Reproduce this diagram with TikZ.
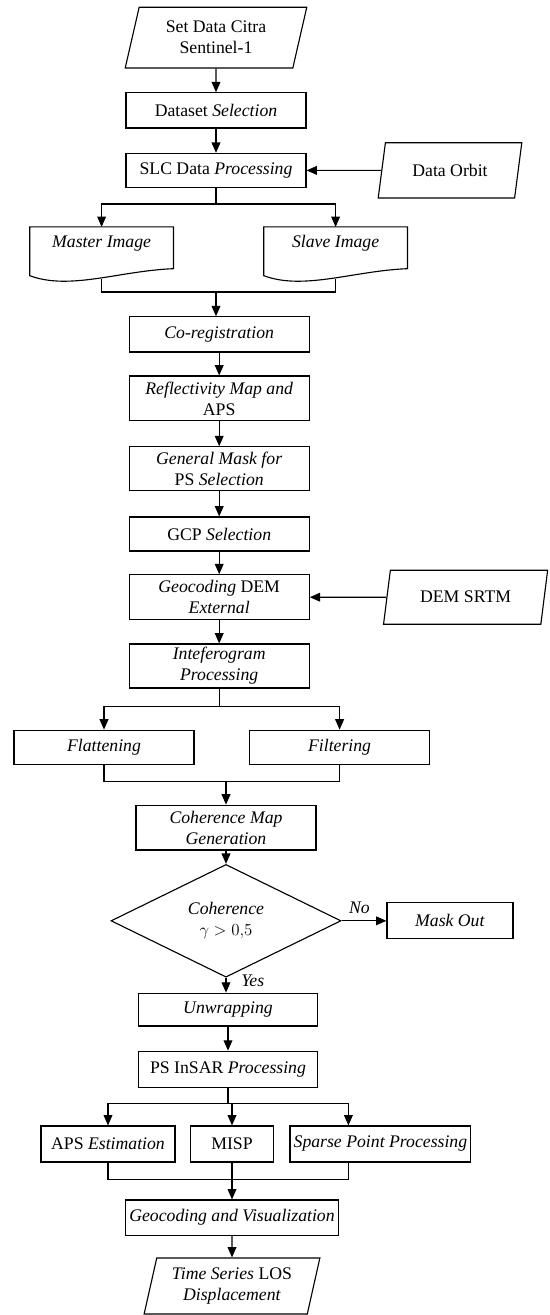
\documentclass[tikz,border=0pt]{standalone}
\usepackage{fontspec}
\setmainfont{Liberation Serif}
\usetikzlibrary{arrows.meta, shapes.geometric, calc}

\begin{document}
\begin{tikzpicture}[
  font=\fontsize{12.6}{15}\selectfont,
  procbox/.style={rectangle, draw, line width=0.8pt, align=center,
    inner sep=2pt, minimum width=4.5cm, minimum height=0.88cm},
  iobox/.style={trapezium, trapezium left angle=76, trapezium right angle=104,
    trapezium stretches=true, draw, line width=0.8pt, align=center, inner sep=2pt},
  docbox/.style={rectangle, align=center, inner sep=2pt,
    minimum width=3.58cm, minimum height=1.28cm,
    text height=0.3cm, text depth=0.55cm},
  decbox/.style={diamond, draw, line width=0.8pt, align=center,
    minimum width=5.75cm, minimum height=2.33cm, inner sep=0pt},
  arr/.style={-{Triangle[length=2.6mm, width=2.2mm]}, line width=0.8pt},
  conn/.style={line width=0.8pt}
]
\useasboundingbox (0,0) rectangle (13.75,-32.875);

%% --- Input and SLC processing ---
\node[iobox, minimum width=4.55cm, minimum height=1.52cm]
  (start) at (5.40,-0.94) {Set Data Citra\\Sentinel-1};
\node[procbox] (dsel) at (5.40,-2.76) {Dataset \textit{Selection}};
\node[procbox, minimum height=0.85cm] (slc) at (5.40,-4.26) {SLC Data \textit{Processing}};
\node[iobox, minimum width=3.6cm, minimum height=1.38cm]
  (orbit) at (11.25,-4.26) {Data Orbit};

%% --- Master / slave ---
\node[docbox] (master) at (2.54,-6.32) {\textit{Master Image}};
\node[docbox] (slave)  at (8.39,-6.32) {\textit{Slave Image}};
\foreach \d in {master, slave}
  \draw[conn] (\d.north west) -- (\d.north east) -- ($(\d.south east)+(0,0.25)$)
    .. controls ($(\d.south east)+(-1.33,0.2)$) and ($(\d.south west)+(1.0,-0.3)$)
    .. ($(\d.south west)+(0,0.075)$) -- cycle;

%% --- Interferometric chain ---
\node[procbox] (coreg)  at (5.48,-8.36)  {\textit{Co-registration}};
\node[procbox, minimum height=1.12cm] (refl)  at (5.48,-9.96)
  {\textit{Reflectivity Map and}\\APS};
\node[procbox, minimum height=1.1cm]  (gmask) at (5.48,-11.72)
  {\textit{General Mask for}\\PS \textit{Selection}};
\node[procbox, minimum height=0.85cm] (gcp)   at (5.48,-13.35) {GCP \textit{Selection}};
\node[procbox, minimum height=1.12cm] (geodem) at (5.48,-14.93)
  {\textit{Geocoding} DEM\\\textit{External}};
\node[iobox, minimum width=4.12cm, minimum height=1.35cm]
  (srtm) at (11.64,-14.93) {DEM SRTM};
\node[procbox, minimum height=1.1cm]  (ifg)   at (5.48,-16.65)
  {\textit{Inteferogram}\\\textit{Processing}};

%% --- Flattening / filtering ---
\node[procbox, minimum height=0.85cm] (flat) at (2.60,-18.68) {\textit{Flattening}};
\node[procbox, minimum height=0.85cm] (filt) at (8.49,-18.68) {\textit{Filtering}};

%% --- Coherence ---
\node[procbox, minimum height=1.12cm] (cohmap) at (5.65,-20.69)
  {\textit{Coherence Map}\\\textit{Generation}};
\node[decbox] (cohq) at (5.65,-23.02) {\textit{Coherence}\\$\gamma > 0{,}5$};
\node[procbox, minimum width=3.15cm, minimum height=0.9cm]
  (maskout) at (11.25,-23.02) {\textit{Mask Out}};

%% --- PS InSAR ---
\node[procbox, minimum width=4.48cm, minimum height=0.82cm] (unwrap) at (5.70,-25.24)
  {\textit{Unwrapping}};
\node[procbox, minimum width=4.48cm, minimum height=0.9cm] (psinsar) at (5.70,-26.73)
  {PS InSAR \textit{Processing}};
\node[procbox, minimum width=3.35cm, minimum height=0.9cm] (aps) at (2.70,-28.60)
  {APS \textit{Estimation}};
\node[procbox, minimum width=2.08cm, minimum height=0.9cm] (misp) at (5.80,-28.60)
  {MISP};
\node[procbox, minimum width=4.52cm, minimum height=0.9cm] (sparse) at (9.51,-28.60)
  {\textit{Sparse Point Processing}};

%% --- Output ---
\node[procbox, minimum width=5.32cm] (geovis) at (5.80,-30.44)
  {\textit{Geocoding and Visualization}};
\node[iobox, minimum width=4.4cm, minimum height=1.4cm]
  (tslos) at (5.80,-32.15) {\textit{Time Series} LOS\\\textit{Displacement}};

%% --- Connectors, top part ---
\draw[arr] (start) -- (dsel);
\draw[arr] (dsel) -- (slc);
\draw[arr] (orbit) -- (slc);
\draw[arr] (slc.south) -- ++(0,-0.4) -| (master.north);
\draw[arr] (slc.south) -- ++(0,-0.4) -| (slave.north);
\coordinate (m1) at (5.40,-7.30);
\draw[conn] (master.south) |- (m1) -| (slave.south);
\draw[arr] (m1) -- (m1 |- coreg.north);

%% --- Connectors, middle part ---
\draw[arr] (coreg) -- (refl);
\draw[arr] (refl) -- (gmask);
\draw[arr] (gmask) -- (gcp);
\draw[arr] (gcp) -- (geodem);
\draw[arr] (srtm) -- (geodem);
\draw[arr] (geodem) -- (ifg);
\draw[arr] (ifg.south) -- ++(0,-0.45) -| (flat.north);
\draw[arr] (ifg.south) -- ++(0,-0.45) -| (filt.north);
\coordinate (m2) at (5.65,-19.53);
\draw[conn] (flat.south) |- (m2) -| (filt.south);
\draw[arr] (m2) -- (cohmap.north);
\draw[arr] (cohmap) -- (cohq);
\draw[arr] (cohq.east) -- node[above=1pt, pos=0.4] {\textit{No}} (maskout.west);
\draw[arr] (cohq.south) -- node[right=0.25cm, pos=0.2] {\textit{Yes}}
  (cohq.south |- unwrap.north);

%% --- Connectors, bottom part ---
\draw[arr] (unwrap) -- (psinsar);
\draw[arr] (psinsar.south) -- ++(0,-0.4) -| (aps.north);
\draw[arr] (psinsar.south) -- ++(0,-0.4) -| (misp.north);
\draw[arr] (psinsar.south) -- ++(0,-0.4) -| ([xshift=-0.8cm]sparse.north);
\coordinate (m3) at (5.80,-29.48);
\draw[conn] (aps.south) |- (m3) -| ([xshift=-0.8cm]sparse.south);
\draw[arr] (misp) -- (geovis);
\draw[arr] (geovis) -- (tslos);

\end{tikzpicture}
\end{document}
